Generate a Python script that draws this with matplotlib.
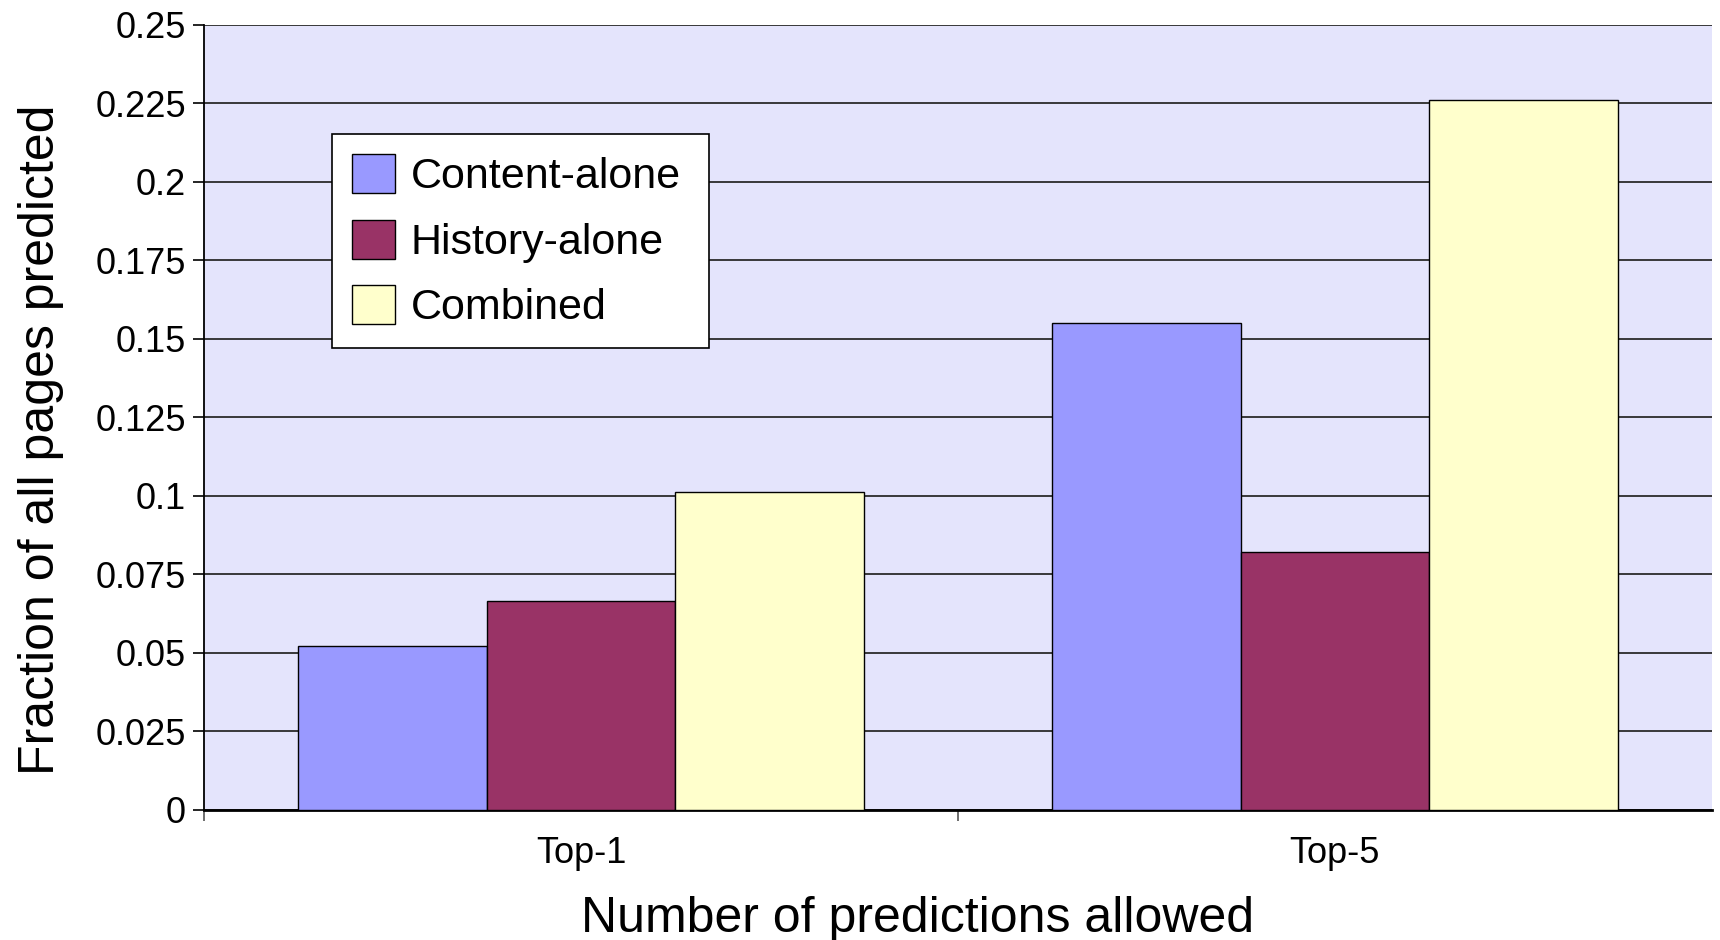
import numpy as np
import matplotlib.pyplot as plt

plt.rcParams['font.family'] = ['Liberation Sans', 'DejaVu Sans']

categories = ['Top-1', 'Top-5']
series_names = ['Content-alone', 'History-alone', 'Combined']
content_alone = [0.0523, 0.1551]
history_alone = [0.0665, 0.0820]
combined = [0.1011, 0.2261]

colors = ['#9999FF', '#993366', '#FFFFCC']
label_size = 26

fig = plt.figure(figsize=(17.2, 9.4), dpi=100)
ax = fig.add_axes([0.1186, 0.1383, 0.8767, 0.8356])
ax.set_facecolor('#E4E4FC')

x = np.arange(len(categories))
bar_w = 0.25
for i, (vals, c, name) in enumerate(zip([content_alone, history_alone, combined], colors, series_names)):
    ax.bar(x + (i - 1) * bar_w, vals, bar_w, color=c, edgecolor='black', linewidth=1.0,
           label=name, zorder=3)

ax.set_xlim(-0.5, 1.5)
ax.set_ylim(0, 0.25)
ax.set_yticks(np.arange(0, 0.2501, 0.025))
ax.set_yticklabels(['0', '0.025', '0.05', '0.075', '0.1', '0.125', '0.15', '0.175', '0.2', '0.225', '0.25'])
ax.yaxis.grid(True, color='#2a2a2a', linewidth=1.3, zorder=1)
ax.set_axisbelow(True)

# category labels centred, separator ticks between groups
ax.set_xticks(x)
ax.set_xticklabels(categories)
ax.set_xticks([-0.5, 0.5], minor=True)
ax.tick_params(axis='x', which='major', length=0, pad=19, labelsize=label_size)
ax.tick_params(axis='x', which='minor', length=8, width=1.2, color='#555555')
ax.tick_params(axis='y', length=8, width=1.2, pad=5, labelsize=label_size)

for s in ['top', 'right']:
    ax.spines[s].set_visible(False)
ax.spines['left'].set_linewidth(1.3)
ax.spines['bottom'].set_linewidth(2.0)

ax.set_xlabel('Number of predictions allowed', fontsize=36)
ax.xaxis.set_label_coords(0.473, -0.11)
ax.set_ylabel('Fraction of all pages predicted', fontsize=36)
ax.yaxis.set_label_coords(-0.093, 0.471)

leg = ax.legend(loc='upper left', bbox_to_anchor=(0.085, 0.5, 0.25, 0.36), mode='expand',
                borderaxespad=0, fontsize=31, frameon=True, fancybox=False,
                handlelength=1.02, handleheight=1.02, handletextpad=0.35,
                labelspacing=0.52, borderpad=0.45)
leg.get_frame().set_edgecolor('black')
leg.get_frame().set_linewidth(1.2)
leg.get_frame().set_facecolor('white')
leg.get_frame().set_alpha(1)

fig.savefig('out.png', dpi=100)
